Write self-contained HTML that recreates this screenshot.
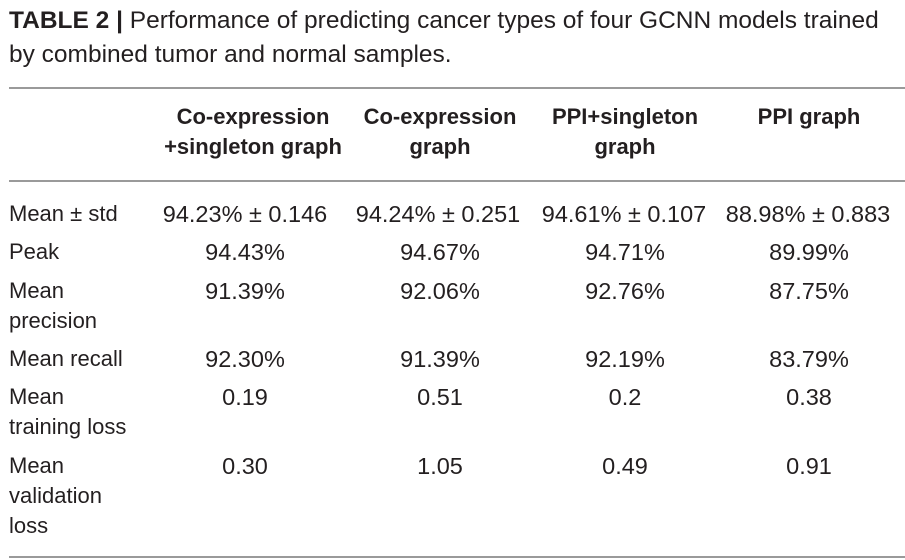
<!DOCTYPE html>
<html><head><meta charset="utf-8"><style>
body{margin:0;width:905px;height:560px;background:#fff;position:relative;overflow:hidden;font-family:"Liberation Sans",Arial,sans-serif;color:#231f20}
.t{position:absolute;white-space:nowrap;font-size:22px;line-height:30px}
.c{text-align:center;width:200px;font-size:23.5px}
.b{font-weight:bold;font-size:22px}
.r{position:absolute;left:9px;width:896px;height:2px;background:#9a9a9a}
</style></head><body>
<div class="t" style="left:9px;top:4px;font-size:24.5px;line-height:34px"><b>TABLE 2 |</b> Performance of predicting cancer types of four GCNN models trained<br>by combined tumor and normal samples.</div>
<div class="r" style="top:87px"></div>
<div class="r" style="top:180px"></div>
<div class="r" style="top:556px"></div>
<div class="t c b" style="left:153px;top:102px">Co-expression<br>+singleton graph</div>
<div class="t c b" style="left:340px;top:102px">Co-expression<br>graph</div>
<div class="t c b" style="left:525px;top:102px">PPI+singleton<br>graph</div>
<div class="t c b" style="left:709px;top:102px">PPI graph</div>

<div class="t" style="left:9px;top:199px">Mean ± std</div>
<div class="t" style="left:9px;top:237px">Peak</div>
<div class="t" style="left:9px;top:276px">Mean<br>precision</div>
<div class="t" style="left:9px;top:344px">Mean recall</div>
<div class="t" style="left:9px;top:382px">Mean<br>training loss</div>
<div class="t" style="left:9px;top:451px">Mean<br>validation<br>loss</div>

<div class="t c" style="left:145px;top:199px">94.23% ± 0.146</div>
<div class="t c" style="left:338px;top:199px">94.24% ± 0.251</div>
<div class="t c" style="left:524px;top:199px">94.61% ± 0.107</div>
<div class="t c" style="left:708px;top:199px">88.98% ± 0.883</div>

<div class="t c" style="left:145px;top:237px">94.43%</div>
<div class="t c" style="left:340px;top:237px">94.67%</div>
<div class="t c" style="left:525px;top:237px">94.71%</div>
<div class="t c" style="left:709px;top:237px">89.99%</div>

<div class="t c" style="left:145px;top:276px">91.39%</div>
<div class="t c" style="left:340px;top:276px">92.06%</div>
<div class="t c" style="left:525px;top:276px">92.76%</div>
<div class="t c" style="left:709px;top:276px">87.75%</div>

<div class="t c" style="left:145px;top:344px">92.30%</div>
<div class="t c" style="left:340px;top:344px">91.39%</div>
<div class="t c" style="left:525px;top:344px">92.19%</div>
<div class="t c" style="left:709px;top:344px">83.79%</div>

<div class="t c" style="left:145px;top:382px">0.19</div>
<div class="t c" style="left:340px;top:382px">0.51</div>
<div class="t c" style="left:525px;top:382px">0.2</div>
<div class="t c" style="left:709px;top:382px">0.38</div>

<div class="t c" style="left:145px;top:451px">0.30</div>
<div class="t c" style="left:340px;top:451px">1.05</div>
<div class="t c" style="left:525px;top:451px">0.49</div>
<div class="t c" style="left:709px;top:451px">0.91</div>
</body></html>
